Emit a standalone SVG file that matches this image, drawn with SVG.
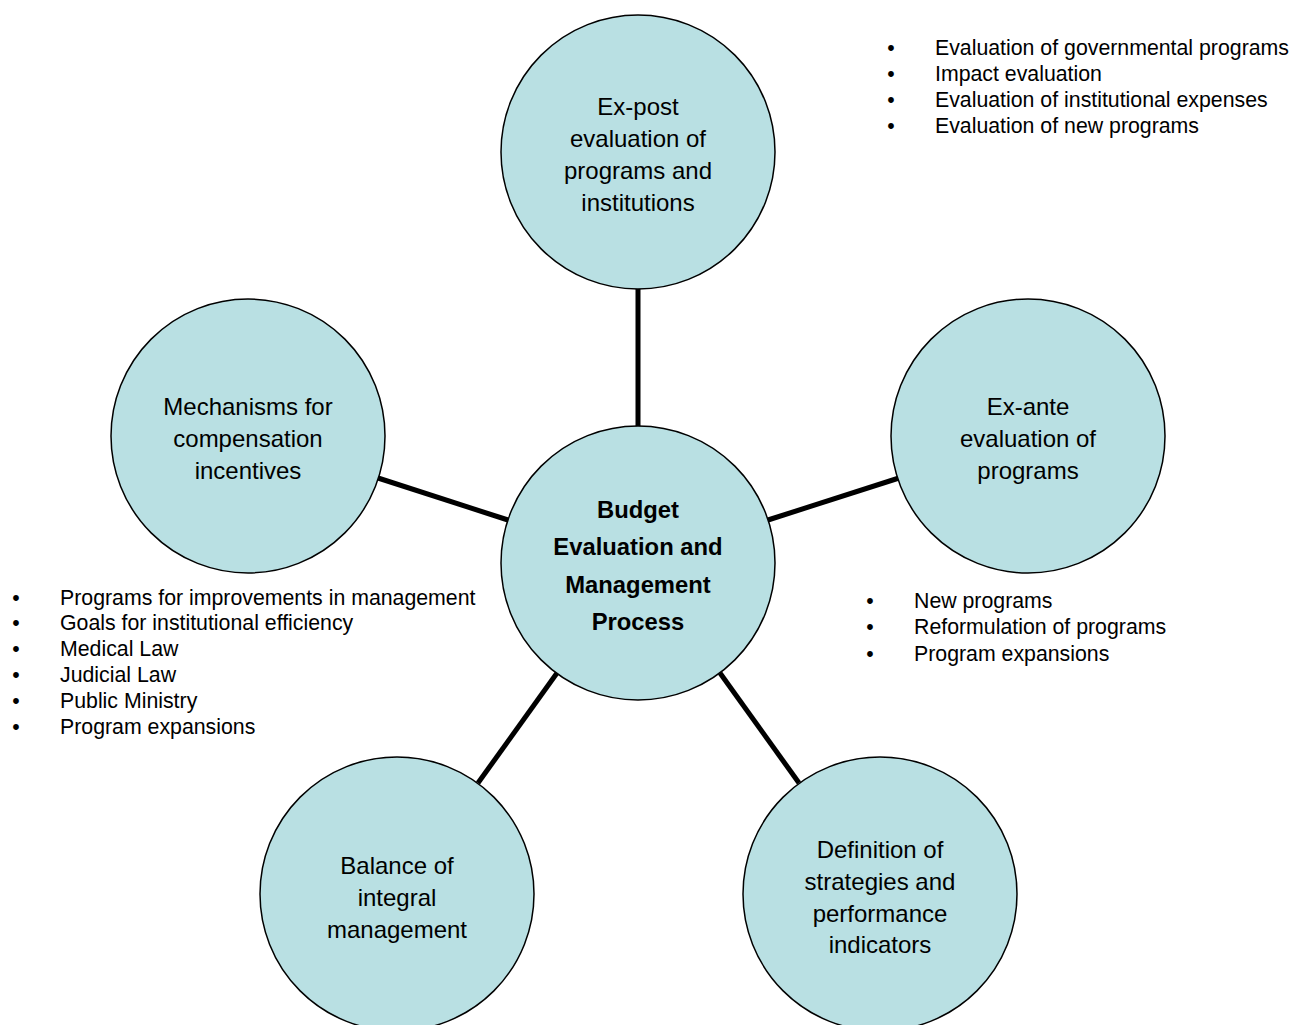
<svg xmlns="http://www.w3.org/2000/svg" width="1292" height="1025" viewBox="0 0 1292 1025">
<style>
.node{fill:#b9e0e3;stroke:#000;stroke-width:1.5}
.conn{stroke:#000;stroke-width:5;fill:none}
.t{font-family:"Liberation Sans",Arial,sans-serif;font-size:24px;fill:#000;text-anchor:middle}
.b{font-weight:bold;font-size:23.8px}
.l{font-family:"Liberation Sans",Arial,sans-serif;font-size:21.3px;fill:#000}
.d{font-family:"Liberation Sans",Arial,sans-serif;font-size:21.3px;fill:#000;text-anchor:middle}
</style>
<rect width="1292" height="1025" fill="#fff"/>
<g id="connectors">
<line class="conn" x1="638" y1="289" x2="638" y2="427"/>
<line class="conn" x1="768" y1="520" x2="899" y2="478"/>
<line class="conn" x1="508" y1="520" x2="378" y2="478"/>
<line class="conn" x1="557" y1="673" x2="478" y2="783"/>
<line class="conn" x1="720" y1="673" x2="799" y2="783"/>
</g>
<g id="center">
<circle class="node" cx="638" cy="563" r="137"/>
<text class="t b"><tspan x="638" y="518">Budget</tspan><tspan x="638" y="555">Evaluation and</tspan><tspan x="638" y="593">Management</tspan><tspan x="638" y="630">Process</tspan></text>
</g>
<g id="expost">
<circle class="node" cx="638" cy="152" r="137"/>
<text class="t"><tspan x="638" y="115">Ex-post</tspan><tspan x="638" y="147">evaluation of</tspan><tspan x="638" y="179">programs and</tspan><tspan x="638" y="211">institutions</tspan></text>
</g>
<g id="exante">
<circle class="node" cx="1028" cy="436" r="137"/>
<text class="t"><tspan x="1028" y="415">Ex-ante</tspan><tspan x="1028" y="447">evaluation of</tspan><tspan x="1028" y="479">programs</tspan></text>
</g>
<g id="mechanisms">
<circle class="node" cx="248" cy="436" r="137"/>
<text class="t"><tspan x="248" y="415">Mechanisms for</tspan><tspan x="248" y="447">compensation</tspan><tspan x="248" y="479">incentives</tspan></text>
</g>
<g id="balance">
<circle class="node" cx="397" cy="894" r="137"/>
<text class="t"><tspan x="397" y="874">Balance of</tspan><tspan x="397" y="906">integral</tspan><tspan x="397" y="938">management</tspan></text>
</g>
<g id="definition">
<circle class="node" cx="880" cy="894" r="137"/>
<text class="t"><tspan x="880" y="858">Definition of</tspan><tspan x="880" y="890">strategies and</tspan><tspan x="880" y="922">performance</tspan><tspan x="880" y="953">indicators</tspan></text>
</g>
<g id="list-top">
<text class="d" x="891" y="55">•</text><text class="l" x="935" y="55">Evaluation of governmental programs</text>
<text class="d" x="891" y="81">•</text><text class="l" x="935" y="81">Impact evaluation</text>
<text class="d" x="891" y="107">•</text><text class="l" x="935" y="107">Evaluation of institutional expenses</text>
<text class="d" x="891" y="133">•</text><text class="l" x="935" y="133">Evaluation of new programs</text>
</g>
<g id="list-right">
<text class="d" x="870" y="608">•</text><text class="l" x="914" y="608">New programs</text>
<text class="d" x="870" y="634">•</text><text class="l" x="914" y="634">Reformulation of programs</text>
<text class="d" x="870" y="661">•</text><text class="l" x="914" y="661">Program expansions</text>
</g>
<g id="list-left">
<text class="d" x="16" y="605">•</text><text class="l" x="60" y="605">Programs for improvements in management</text>
<text class="d" x="16" y="630">•</text><text class="l" x="60" y="630">Goals for institutional efficiency</text>
<text class="d" x="16" y="656">•</text><text class="l" x="60" y="656">Medical Law</text>
<text class="d" x="16" y="682">•</text><text class="l" x="60" y="682">Judicial Law</text>
<text class="d" x="16" y="708">•</text><text class="l" x="60" y="708">Public Ministry</text>
<text class="d" x="16" y="734">•</text><text class="l" x="60" y="734">Program expansions</text>
</g>
</svg>
